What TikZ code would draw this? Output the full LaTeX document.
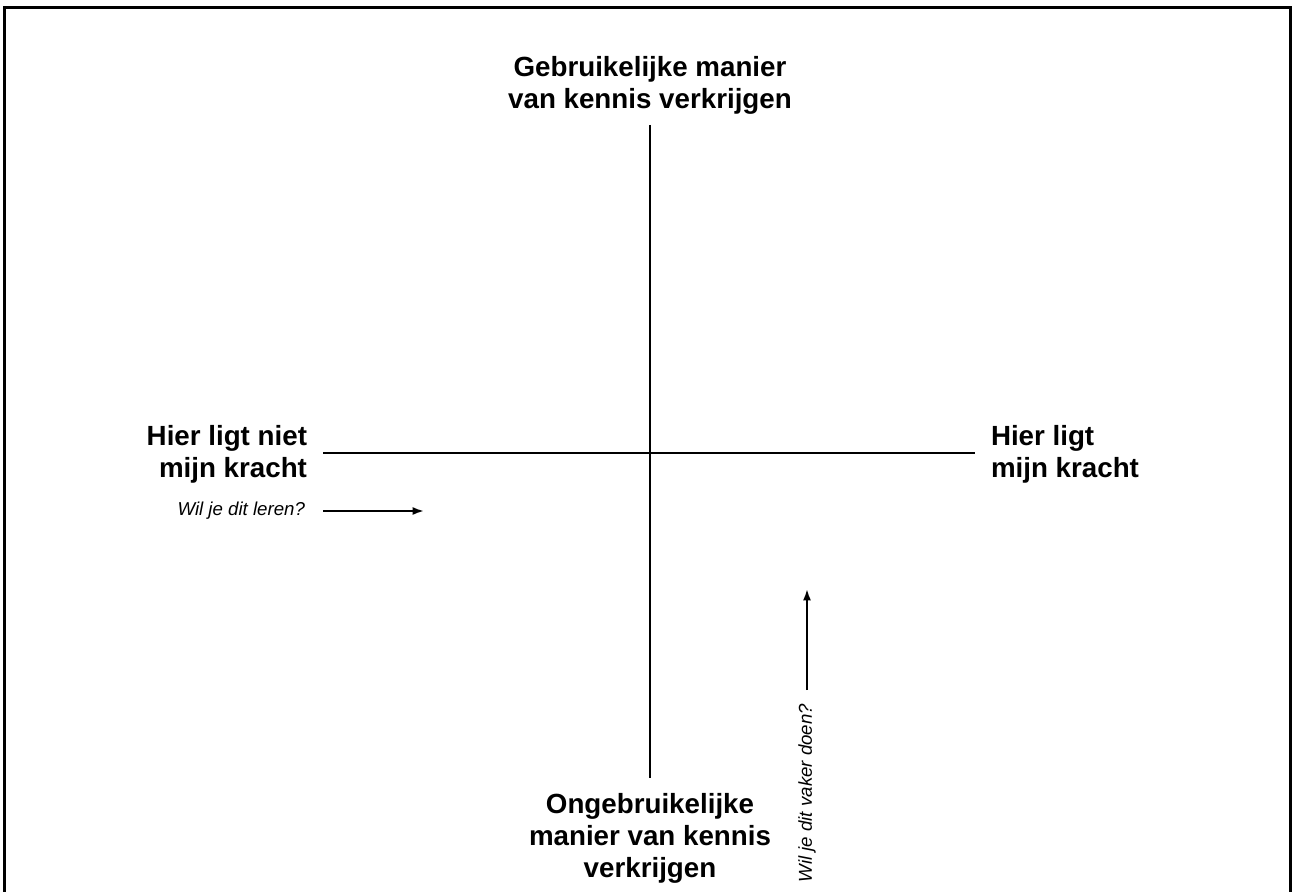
\documentclass[tikz,border=0pt]{standalone}
\usepackage{fontspec}
\setmainfont{Liberation Sans}
\usetikzlibrary{positioning,arrows.meta}
\tikzset{
  axislabel/.style={font=\fontsize{20.8}{24}\selectfont\bfseries,inner sep=0pt},
  hint/.style={font=\fontsize{14}{16}\selectfont\itshape,inner sep=0pt},
  axis/.style={line width=1.5pt},
}
\begin{document}
\begin{tikzpicture}[x=0.75pt,y=-0.75pt,->,>={Latex[length=8.5pt,width=6pt]},line width=1.5pt]

\useasboundingbox (0,0) rectangle (1293,892);
\draw[-,line width=1.6pt] (4.5,7.5) rectangle (1290.5,910);

% axis ends
\coordinate (top) at (650,125);
\coordinate (bottom) at (650,778);
\coordinate (left) at (323,453);
\coordinate (right) at (975,453);

\node[axislabel,align=center] (usual) at (650,85) {Gebruikelijke manier\\van kennis verkrijgen};
\node[axislabel,align=center] (unusual) at (650,838) {Ongebruikelijke\\manier van kennis\\verkrijgen};
\node[axislabel,align=right,anchor=east] (weak) at (308,454) {Hier ligt niet\\mijn kracht};
\node[axislabel,align=left,anchor=west] (strong) at (990,454) {Hier ligt\\mijn kracht};

\node[hint,anchor=east] (learn) at (306,511) {Wil je dit leren?};
\node[hint,rotate=90] (more) at (807,793) {Wil je dit vaker doen?};

\coordinate (learn0) at (323,511);
\coordinate (learn1) at (424,511);
\coordinate (more0) at (807,690);
\coordinate (more1) at (807,589);

\path [draw,-,axis]
    (top) -- (bottom)
    (left) -- (right)
;

\draw (learn0) -- (learn1);
\draw (more0) -- (more1);

\end{tikzpicture}
\end{document}
